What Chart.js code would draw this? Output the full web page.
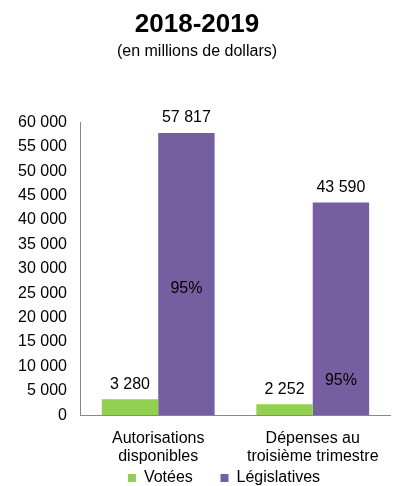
<!DOCTYPE html>
<html>
<head>
<meta charset="utf-8">
<script src="https://cdn.jsdelivr.net/npm/chart.js@4/dist/chart.umd.min.js"></script>
<style>
  body { margin: 0; background: #fff; }
  #wrap { width: 395px; height: 486px; }
</style>
</head>
<body>
<div id="wrap"><canvas id="chart" width="395" height="486"></canvas></div>
<script>
const categories = [['Autorisations', 'disponibles'], ['Dépenses au', 'troisième trimestre']];
const votees = [3280, 2252];
const legislatives = [57817, 43590];
const pctLabels = ['95%', '95%'];
const pctAt = [25900, 7100];
const yTicks = [0, 5000, 10000, 15000, 20000, 25000, 30000, 35000, 40000, 45000, 50000, 55000, 60000];

const FONT = '"Liberation Sans", Arial, sans-serif';

function fmt(v) {
    return String(v).replace(/\B(?=(\d{3})+(?!\d))/g, ' ');
}

const labelPlugin = {
    id: 'barLabels',
    afterLayout(chart) {
        // legend sits a bit right of centre in the original
        if (chart.legend) {
            chart.legend.left += 27;
            chart.legend.right += 27;
        }
    },
    afterDatasetsDraw(chart) {
        const ctx = chart.ctx;
        ctx.save();
        ctx.font = '16px ' + FONT;
        ctx.fillStyle = '#000';
        ctx.textAlign = 'center';
        ctx.textBaseline = 'bottom';
        chart.data.datasets.forEach(function (ds, i) {
            chart.getDatasetMeta(i).data.forEach(function (bar, j) {
                ctx.fillText(fmt(ds.data[j]), bar.x, bar.y - 7);
            });
        });
        // percentages inside the legislative bars
        const meta = chart.getDatasetMeta(1);
        const y = chart.scales.y;
        ctx.textBaseline = 'middle';
        meta.data.forEach(function (bar, j) {
            ctx.fillText(pctLabels[j], bar.x, y.getPixelForValue(pctAt[j]));
        });
        ctx.restore();
    }
};

const ctx = document.getElementById('chart').getContext('2d');
new Chart(ctx, {
    type: 'bar',
    data: {
        labels: categories,
        datasets: [
            { label: 'Votées', data: votees, backgroundColor: '#92D050' },
            { label: 'Législatives', data: legislatives, backgroundColor: '#765FA0' }
        ]
    },
    plugins: [labelPlugin],
    options: {
        responsive: false,
        animation: false,
        layout: { padding: { left: 4, right: 5, top: 0, bottom: -10 } },
        datasets: { bar: { barPercentage: 1, categoryPercentage: 0.73 } },
        scales: {
            x: {
                afterFit(axis) { axis.height -= 11; },
                grid: { display: false, drawTicks: false },
                border: { display: true, color: '#888' },
                ticks: {
                    color: '#000',
                    padding: 14,
                    maxRotation: 0,
                    font: { family: FONT, size: 16, lineHeight: 1.15 }
                }
            },
            y: {
                min: 0,
                max: 60000,
                afterBuildTicks(axis) {
                    axis.ticks = yTicks.map(function (v) { return { value: v }; });
                },
                grid: { display: false, drawTicks: false },
                border: { display: true, color: '#888' },
                ticks: {
                    color: '#000',
                    padding: 14,
                    font: { family: FONT, size: 16 },
                    callback: function (v) { return fmt(v); }
                }
            }
        },
        plugins: {
            title: {
                display: true,
                text: '2018-2019',
                color: '#000',
                font: { family: FONT, size: 26, weight: 'bold' },
                padding: { top: 9, bottom: 2 }
            },
            subtitle: {
                display: true,
                text: '(en millions de dollars)',
                color: '#000',
                font: { family: FONT, size: 16 },
                padding: { top: 0, bottom: 61 }
            },
            legend: {
                position: 'bottom',
                labels: {
                    color: '#000',
                    boxWidth: 8,
                    boxHeight: 8,
                    padding: 1,
                    font: { family: FONT, size: 16 },
                    generateLabels(chart) {
                        const items = Chart.defaults.plugins.legend.labels.generateLabels(chart);
                        // wider gap between the two entries
                        items[0].text = items[0].text + '      ';
                        return items;
                    }
                }
            },
            tooltip: { enabled: false }
        }
    }
});
</script>
</body>
</html>
